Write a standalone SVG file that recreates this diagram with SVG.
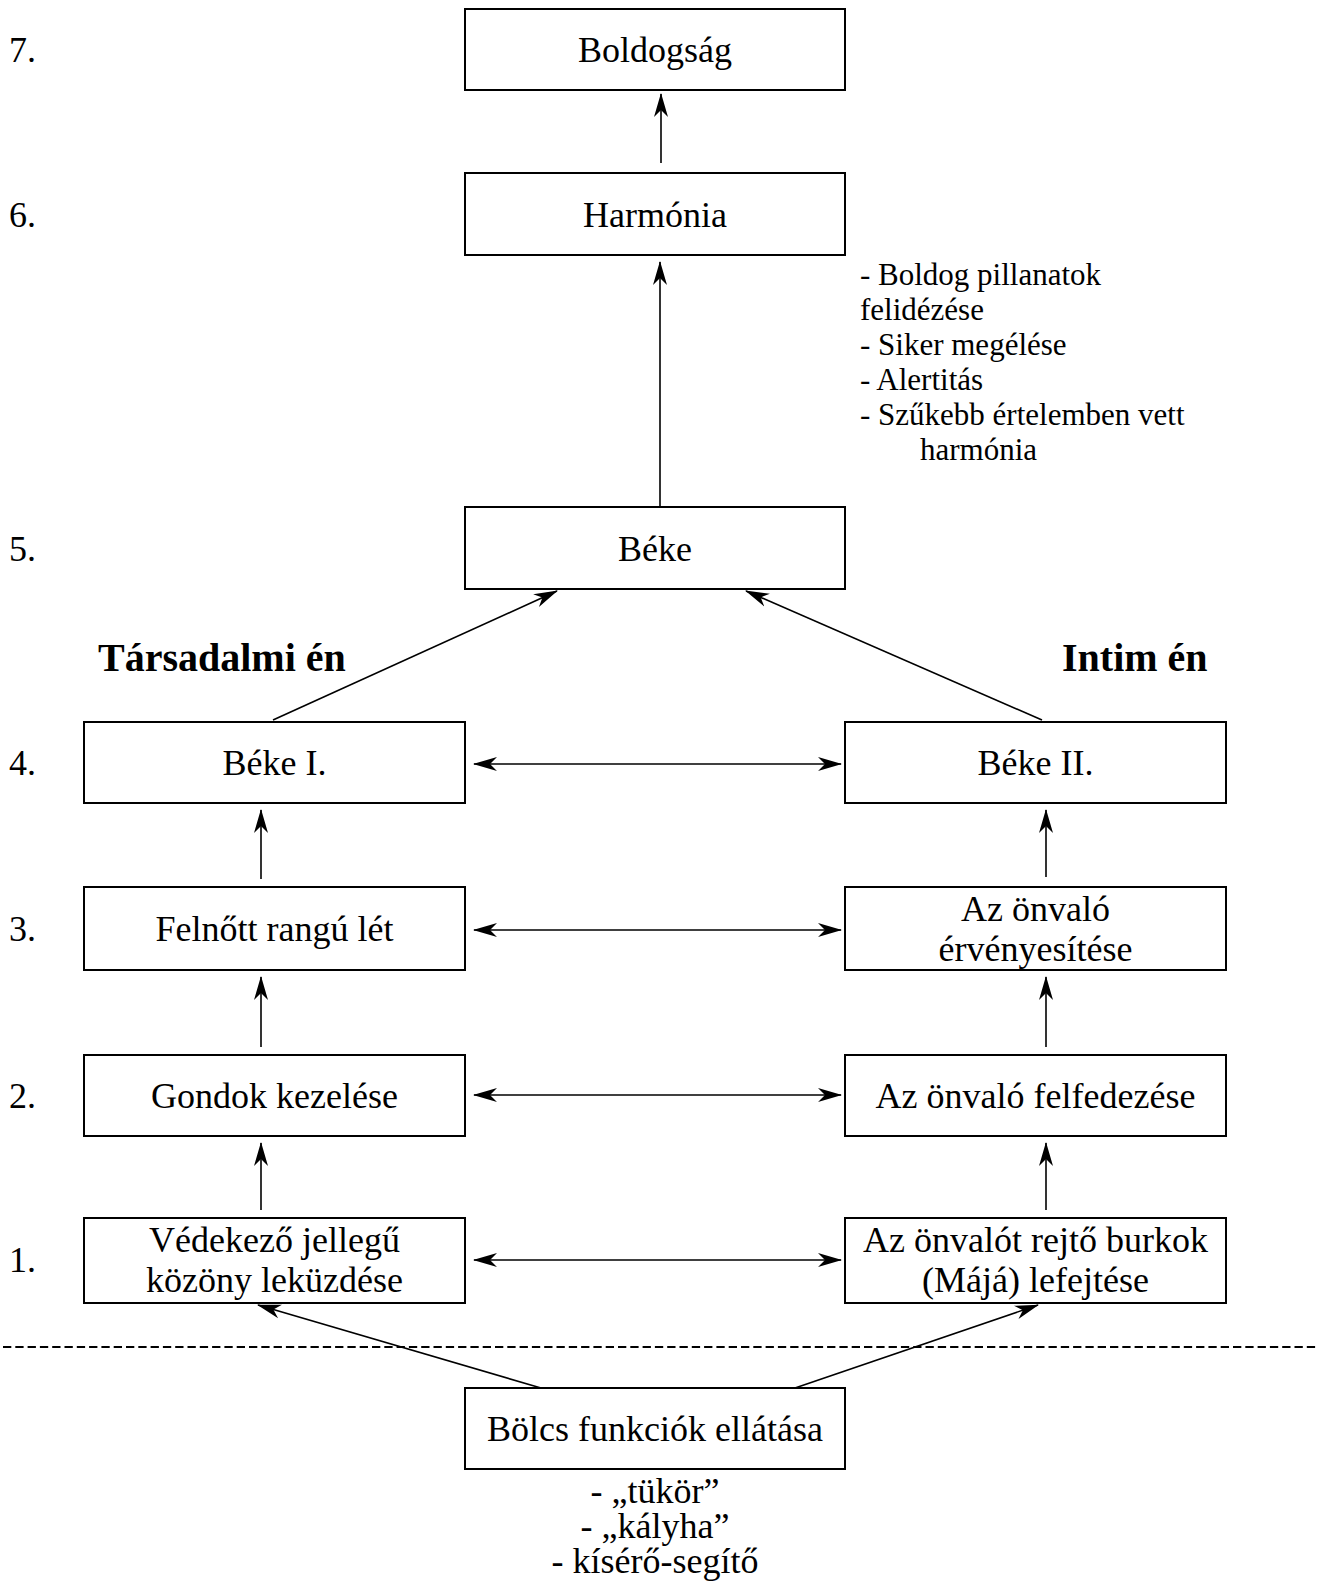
<svg xmlns="http://www.w3.org/2000/svg" width="1319" height="1595" viewBox="0 0 1319 1595">
<style>
text{font-family:"Liberation Serif","Times New Roman",serif;fill:#000}
.box{fill:#fff;stroke:#000;stroke-width:2}
.t{font-size:36px;text-anchor:middle}
.lvl{font-size:36px}
.note{font-size:31px}
.head{font-size:40px;font-weight:bold}
.c{stroke:#000;stroke-width:1.6;fill:none;marker-end:url(#ah)}
.d{marker-start:url(#ah)}
</style>
<defs>
<marker id="ah" markerUnits="userSpaceOnUse" markerWidth="24" markerHeight="16" viewBox="0 0 24 16" refX="23" refY="8" orient="auto-start-reverse">
<path d="M0,1 L24,8 L0,15 L7,8 Z" fill="#000"/>
</marker>
</defs>
<rect width="1319" height="1595" fill="#fff"/>

<g id="levels">
<text class="lvl" x="9" y="62">7.</text>
<text class="lvl" x="9" y="227">6.</text>
<text class="lvl" x="9" y="561">5.</text>
<text class="lvl" x="9" y="775">4.</text>
<text class="lvl" x="9" y="941">3.</text>
<text class="lvl" x="9" y="1108">2.</text>
<text class="lvl" x="9" y="1272">1.</text>
</g>

<g id="headings">
<text class="head" x="98" y="671">Társadalmi én</text>
<text class="head" x="1062" y="671">Intim én</text>
</g>

<g id="connectors">
<line class="c" x1="661" y1="163" x2="661" y2="94"/>
<line class="c" x1="660" y1="506" x2="660" y2="262"/>
<line class="c" x1="273" y1="720" x2="557" y2="591"/>
<line class="c" x1="1042" y1="720" x2="746" y2="591"/>
<line class="c" x1="261" y1="879" x2="261" y2="810"/>
<line class="c" x1="1046" y1="877" x2="1046" y2="810"/>
<line class="c" x1="261" y1="1047" x2="261" y2="977"/>
<line class="c" x1="1046" y1="1047" x2="1046" y2="977"/>
<line class="c" x1="261" y1="1210" x2="261" y2="1143"/>
<line class="c" x1="1046" y1="1210" x2="1046" y2="1143"/>
<line class="c d" x1="474" y1="764" x2="841" y2="764"/>
<line class="c d" x1="474" y1="930" x2="841" y2="930"/>
<line class="c d" x1="474" y1="1095" x2="841" y2="1095"/>
<line class="c d" x1="474" y1="1260" x2="841" y2="1260"/>
<line class="c" x1="541" y1="1388" x2="258" y2="1305"/>
<line class="c" x1="795" y1="1388" x2="1038" y2="1305"/>
<line x1="3" y1="1347" x2="1319" y2="1347" stroke="#000" stroke-width="2" stroke-dasharray="8.3 4"/>
</g>

<g id="n-boldogsag"><rect class="box" x="465" y="9" width="380" height="81"/><text class="t" x="655" y="62">Boldogság</text></g>
<g id="n-harmonia"><rect class="box" x="465" y="173" width="380" height="82"/><text class="t" x="655" y="227">Harmónia</text></g>
<g id="n-beke"><rect class="box" x="465" y="507" width="380" height="82"/><text class="t" x="655" y="561">Béke</text></g>
<g id="n-beke1"><rect class="box" x="84" y="722" width="381" height="81"/><text class="t" x="274.5" y="775">Béke I.</text></g>
<g id="n-beke2"><rect class="box" x="845" y="722" width="381" height="81"/><text class="t" x="1035.5" y="775">Béke II.</text></g>
<g id="n-felnott"><rect class="box" x="84" y="887" width="381" height="83"/><text class="t" x="274.5" y="941">Felnőtt rangú lét</text></g>
<g id="n-ervenyesites"><rect class="box" x="845" y="887" width="381" height="83"/><text class="t" x="1035.5" y="921">Az önvaló</text><text class="t" x="1035.5" y="961">érvényesítése</text></g>
<g id="n-gondok"><rect class="box" x="84" y="1055" width="381" height="81"/><text class="t" x="274.5" y="1108">Gondok kezelése</text></g>
<g id="n-felfedezes"><rect class="box" x="845" y="1055" width="381" height="81"/><text class="t" x="1035.5" y="1108">Az önvaló felfedezése</text></g>
<g id="n-vedekezo"><rect class="box" x="84" y="1218" width="381" height="85"/><text class="t" x="274.5" y="1252">Védekező jellegű</text><text class="t" x="274.5" y="1292">közöny leküzdése</text></g>
<g id="n-burkok"><rect class="box" x="845" y="1218" width="381" height="85"/><text class="t" x="1035.5" y="1252">Az önvalót rejtő burkok</text><text class="t" x="1035.5" y="1292">(Májá) lefejtése</text></g>
<g id="n-bolcs"><rect class="box" x="465" y="1388" width="380" height="81"/><text class="t" x="655" y="1441">Bölcs funkciók ellátása</text></g>

<g id="note-harmonia">
<text class="note" x="860" y="285">- Boldog pillanatok</text>
<text class="note" x="860" y="320">felidézése</text>
<text class="note" x="860" y="355">- Siker megélése</text>
<text class="note" x="860" y="390">- Alertitás</text>
<text class="note" x="860" y="425">- Szűkebb értelemben vett</text>
<text class="note" x="920" y="460">harmónia</text>
</g>

<g id="note-bolcs">
<text class="t" x="655" y="1503">- „tükör”</text>
<text class="t" x="655" y="1538">- „kályha”</text>
<text class="t" x="655" y="1573">- kísérő-segítő</text>
</g>
</svg>
